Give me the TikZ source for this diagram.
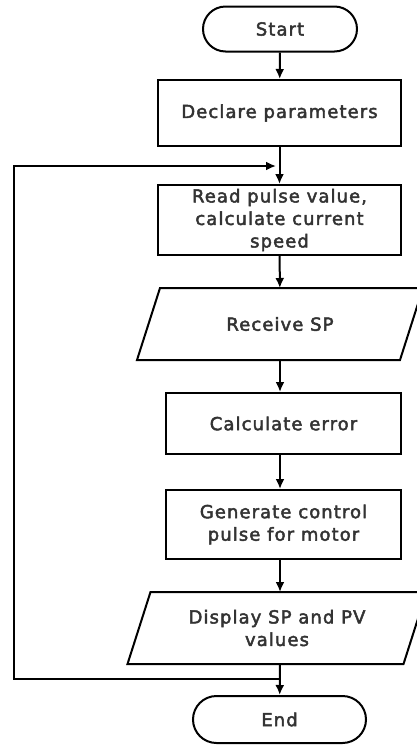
\documentclass[tikz,border=0pt]{standalone}
\usepackage{fontspec}
\newfontfamily\boxfont[LetterSpace=6, RawFeature={embolden=2.5}]{DejaVu Sans}
\usetikzlibrary{arrows.meta}
\usetikzlibrary{shapes.misc}

\begin{document}
\begin{tikzpicture}[x=1pt,y=-1pt,
    line width=2pt,
    >={Latex[length=10pt,width=9pt]},
    every node/.style={font=\boxfont\fontsize{18}{22.5}\selectfont, text=black!80, align=center},
    terminal/.style={draw, rounded rectangle, minimum width=#1, minimum height=45pt, inner sep=0pt},
    process/.style={draw, rectangle, minimum width=#1, inner sep=0pt},
    io/.style={rectangle, minimum width=#1, minimum height=70pt, inner sep=0pt}]

  \useasboundingbox (0,0) rectangle (417,745);

  \node[terminal=154pt] (start) at (280,29) {Start};
  \node[process=243pt, minimum height=66pt] (declare) at (279.5,113) {Declare parameters};
  \node[process=243pt, minimum height=70pt] (read) at (279.5,220) {Read pulse value,\\calculate current\\speed};
  \node[io=261pt] (sp) at (280,324) {Receive SP};
  \node[process=235pt, minimum height=61pt] (err) at (283.5,423.5) {Calculate error};
  \node[process=235pt, minimum height=69pt] (gen) at (283.5,524.5) {Generate control\\pulse for motor};
  \node[io=274pt] (disp) at (277,628) {Display SP and PV\\values};
  \node[terminal=173pt, minimum height=47pt] (end) at (279.5,719.5) {End};

  \foreach \n in {sp,disp}
    \draw ([xshift=-11.5]\n.south west) -- ([xshift=-11.5]\n.south east)
      -- ([xshift=11.5]\n.north east) -- ([xshift=11.5]\n.north west) -- cycle;

  \draw[->] (start) -- (declare);
  \draw[->] (declare) -- (read);
  \draw[->] (read) -- (sp);
  \draw[->] (sp.south) -- (sp.south |- err.north);
  \draw[->] (err.south -| sp.south) -- (gen.north -| sp.south);
  \draw[->] (gen.south -| sp.south) -- (disp.north -| sp.south);
  \draw[->] (disp.south -| sp.south) -- (end);

  \coordinate (back) at (280,679);
  \coordinate (entry) at (276,166);
  \draw[->] (back) -- ++(-266,0) |- (entry);
\end{tikzpicture}
\end{document}
